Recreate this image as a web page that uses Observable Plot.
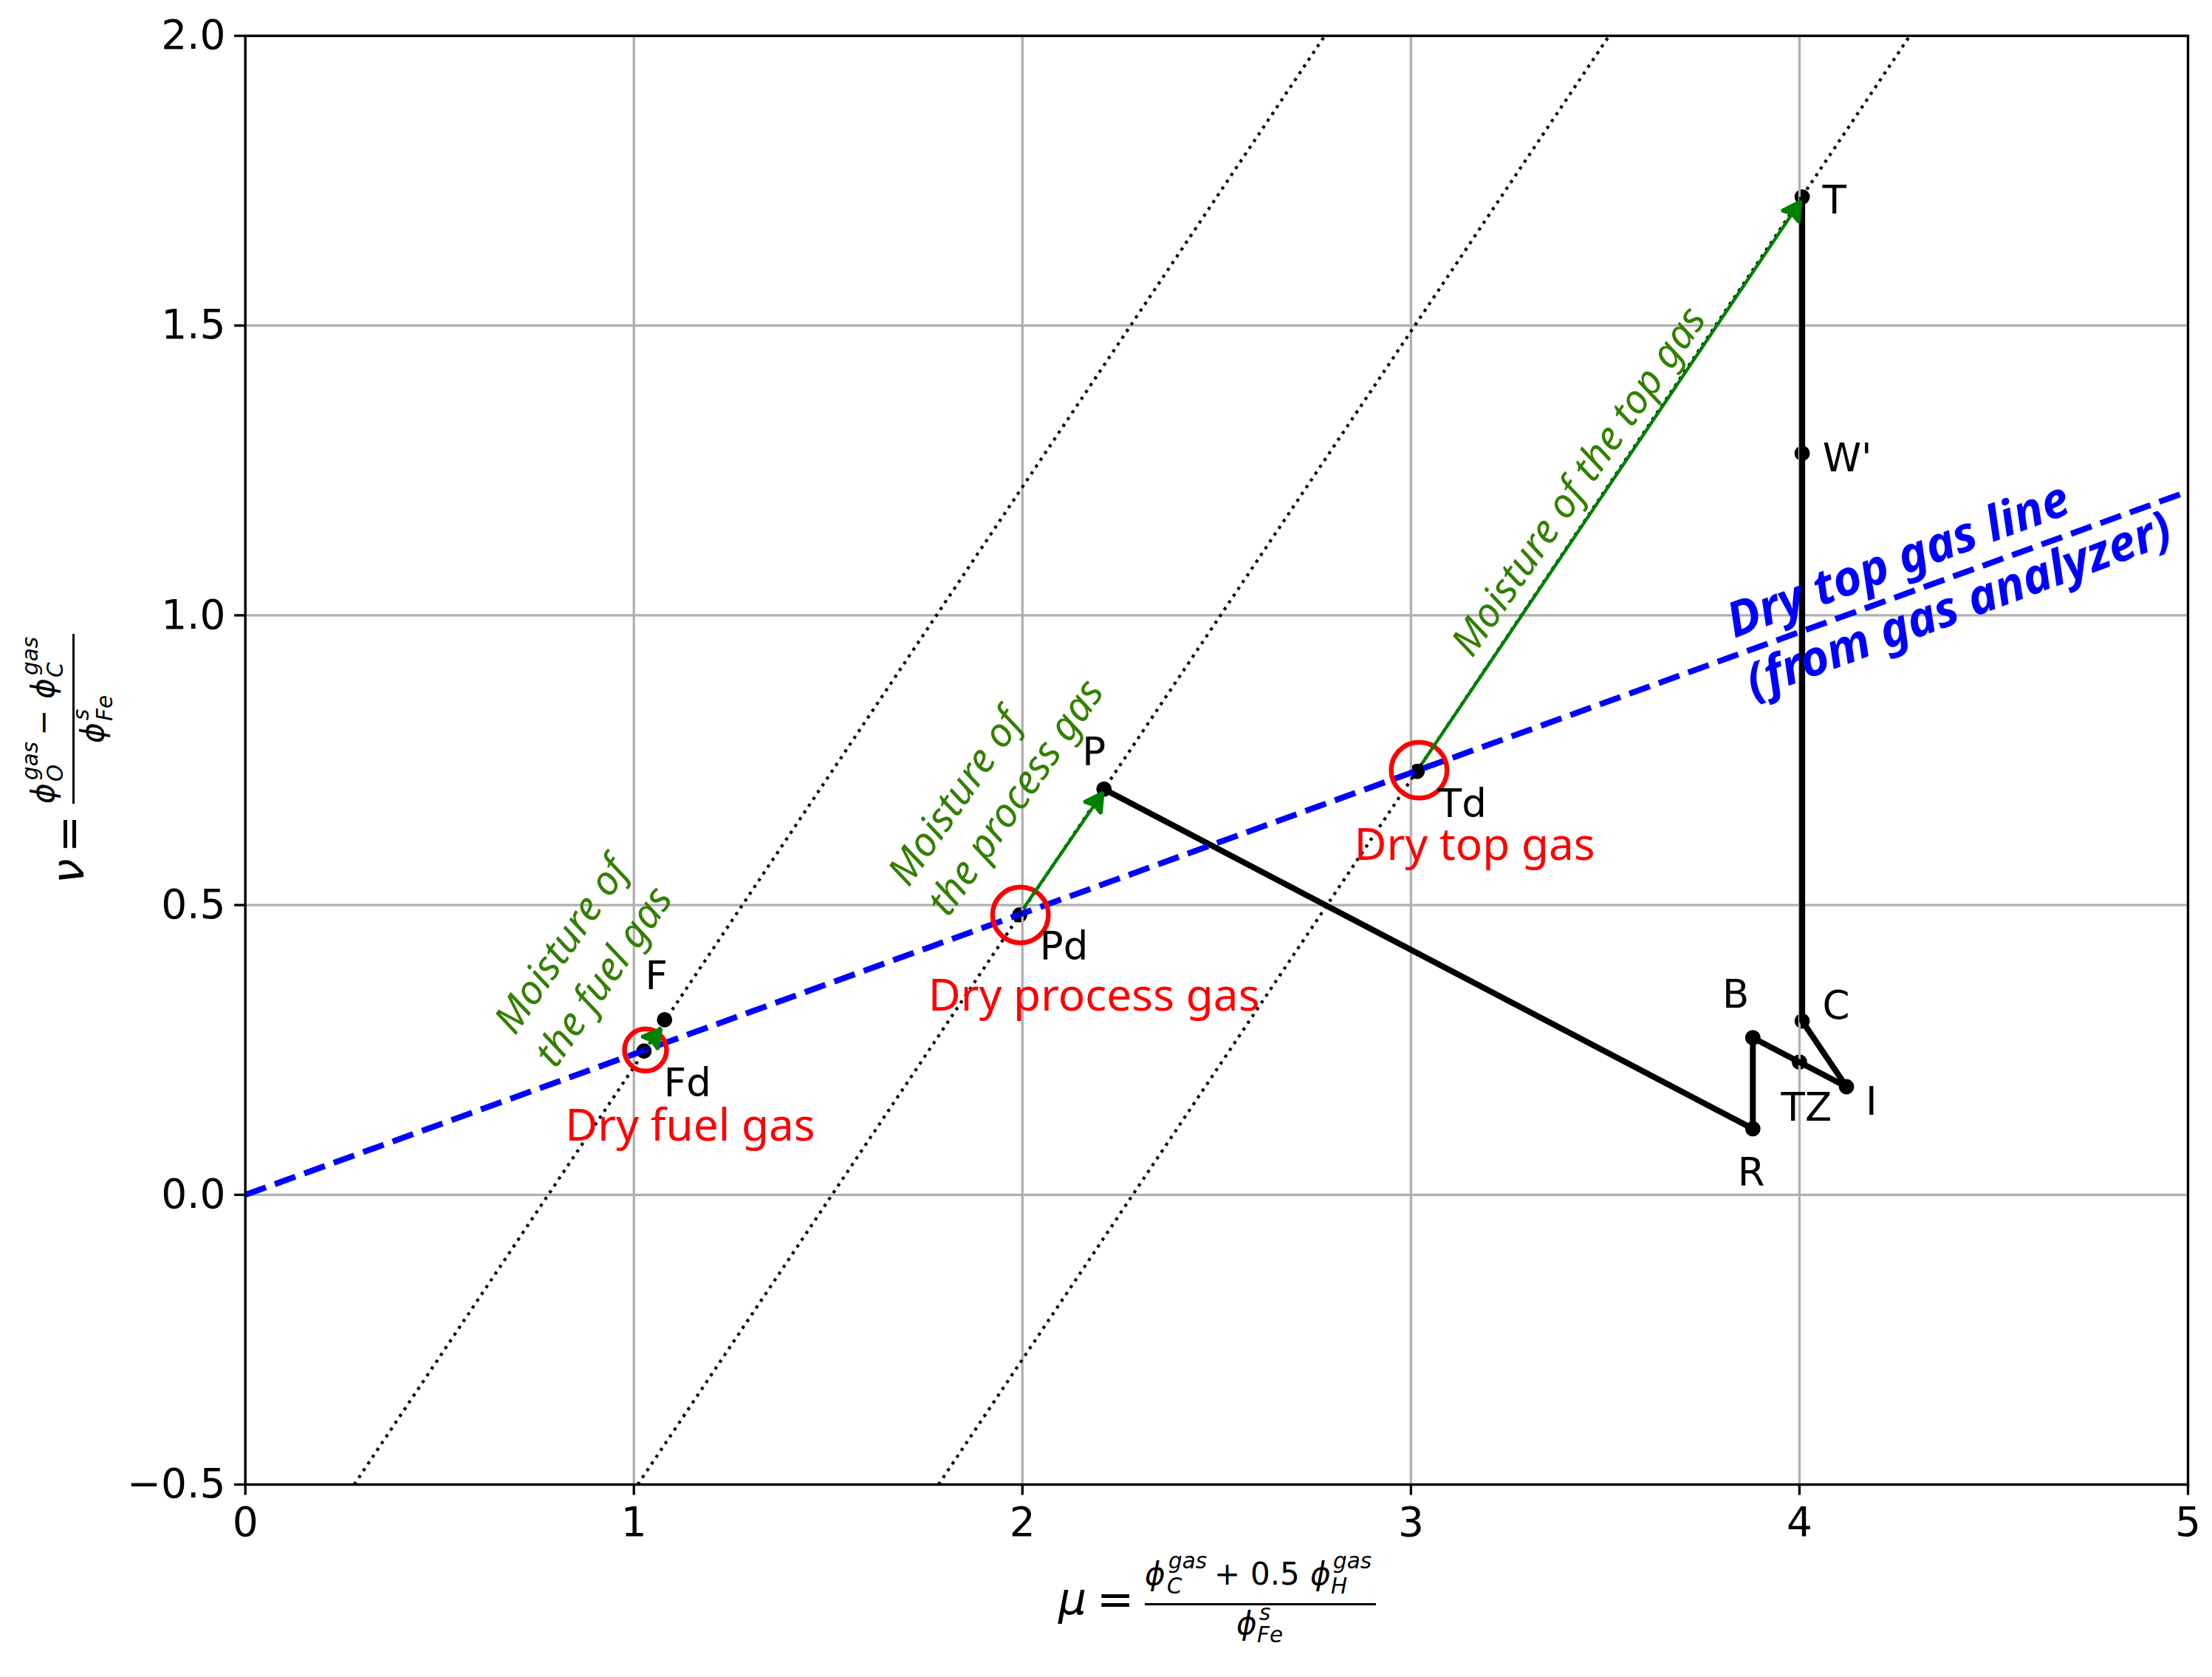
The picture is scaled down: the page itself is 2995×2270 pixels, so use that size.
<!DOCTYPE html>
<html>
<head>
<meta charset="utf-8">
<script src="https://cdn.jsdelivr.net/npm/d3@7"></script>
<script src="https://cdn.jsdelivr.net/npm/@observablehq/plot@0.6"></script>
<style>html,body{margin:0;padding:0;background:#fff}svg{display:block}</style>
</head>
<body>
<script>
// operating path
const pathNames = ["P","R","B","TZ","I","C","W'","T"];
const pathMu = [2.21,3.88,3.88,4.0,4.121,4.007,4.007,4.007];
const pathNu = [0.70,0.114,0.271,0.229,0.1865,0.30,1.2795,1.722];
// dry gas points
const dryMu = [1.026,1.993,3.016];
const dryNu = [0.248,0.483,0.7307];
const fuelMu = [1.079];
const fuelNu = [0.302];
// red rings
const ringMu = [1.03,1.995,3.021];
const ringNu = [0.2498,0.483,0.7327];
const ringR = [28.5,37.8,37.8];
// dry top gas line
const dryLineMu = [0,5];
const dryLineNu = [0,1.2137];
// dotted lines of constant ratio
const dotMu1 = [0.28,1.01,1.784];
const dotNu1 = [-0.5,-0.5,-0.5];
const dotMu2 = [2.778,3.51,4.284];
const dotNu2 = [2,2,2];
// moisture arrows
const arrowMu1 = [1.0386,2.0025,3.029];
const arrowNu1 = [0.26,0.4941,0.7447];
const arrowMu2 = [1.0631,2.2008,3.9966];
const arrowNu2 = [0.281,0.6879,1.7083];
// labels
const blackText = ["T","W'","C","B","TZ","I","R","P","F","Fd","Pd","Td"];
const blackMu = [4.09,4.123,4.094,3.836,4.018,4.185,3.876,2.184,1.058,1.138,2.107,3.132];
const blackNu = [1.7152,1.2697,0.3251,0.3446,0.1498,0.1596,0.0378,0.7633,0.3762,0.1912,0.4274,0.6732];
const redText = ["Dry fuel gas","Dry process gas","Dry top gas"];
const redMu = [1.145,2.184,3.164];
const redNu = [0.1182,0.3422,0.6026];
const greenText = ["Moisture of","the fuel gas","Moisture of","the process gas","Moisture of the top gas"];
const greenMu = [0.8147,0.9236,1.8278,1.984,3.433];
const greenNu = [0.4298,0.3762,0.6854,0.6854,1.2307];
const blueText = ["Dry top gas line","(from gas analyzer)"];
const blueMu = [4.254,4.41];
const blueNu = [1.0944,1.0161];
const xTicks = [0,1,2,3,4,5];
const yTicks = [-0.5,0,0.5,1,1.5,2];

const rows = (...cols) => cols[0].map((_, i) => cols.map(c => c[i]));

function stealth(color, context) {
  const ns = "http://www.w3.org/2000/svg";
  const doc = context.document;
  const m = doc.createElementNS(ns, "marker");
  m.setAttribute("markerUnits", "userSpaceOnUse");
  m.setAttribute("markerWidth", "60");
  m.setAttribute("markerHeight", "60");
  m.setAttribute("viewBox", "-30 -30 60 60");
  m.setAttribute("refX", "0");
  m.setAttribute("refY", "0");
  m.setAttribute("orient", "auto");
  const p = doc.createElementNS(ns, "path");
  p.setAttribute("d", "M6,0L-19,14L-15,0L-19,-14Z");
  p.setAttribute("fill", "#008000");
  m.appendChild(p);
  return m;
}

const PHI = "\u03D5";
function mathPieces(g, place, pieces) {
  for (const [s, b, txt, size, it] of pieces) {
    const [tx, rot, ty] = place(s, b);
    g.append("text")
      .attr("transform", `translate(${tx},${ty}) rotate(${rot})`)
      .attr("text-anchor", "start")
      .attr("font-family", "DejaVu Sans")
      .attr("font-size", size)
      .attr("font-style", it ? "italic" : "normal")
      .attr("fill", "black")
      .text(txt);
  }
}
function xLabel() {
  const g = d3.create("svg:g");
  const place = (s, b) => [s, 0, b];
  mathPieces(g, place, [
    [1433, 2185, "\u03BC", 60, 1],
    [1485, 2185, "=", 60, 0],
    [1550, 2145, PHI, 42, 1],
    [1582, 2123, "gas", 29.4, 1],
    [1580, 2157, "C", 29.4, 1],
    [1644, 2145, "+", 42, 0],
    [1693, 2145, "0.5", 42, 0],
    [1774, 2145, PHI, 42, 1],
    [1805, 2123, "gas", 29.4, 1],
    [1802, 2157, "H", 29.4, 1],
    [1674, 2212, PHI, 42, 1],
    [1705, 2193, "s", 29.4, 1],
    [1702, 2223, "Fe", 29.4, 1]
  ]);
  g.append("rect").attr("x", 1550).attr("y", 2170).attr("width", 313).attr("height", 3).attr("fill", "black");
  return g.node();
}
function yLabel() {
  const g = d3.create("svg:g");
  const place = (s, b) => [b, -90, s];
  mathPieces(g, place, [
    [1196, 112.7, "\u03BD", 60, 1],
    [1154, 112.7, "=", 60, 0],
    [1088, 73, PHI, 42, 1],
    [1056, 51, "gas", 29.4, 1],
    [1058, 85, "O", 29.4, 1],
    [996, 73, "\u2212", 42, 0],
    [946, 73, PHI, 42, 1],
    [914, 51, "gas", 29.4, 1],
    [917, 85, "C", 29.4, 1],
    [1006, 140, PHI, 42, 1],
    [975, 120, "s", 29.4, 1],
    [976, 152, "Fe", 29.4, 1]
  ]);
  g.append("rect").attr("x", 98).attr("y", 858).attr("width", 3).attr("height", 230).attr("fill", "black");
  return g.node();
}

const chart = Plot.plot({
  width: 2995,
  height: 2270,
  marginLeft: 331.7,
  marginRight: 33,
  marginTop: 48,
  marginBottom: 261,
  style: {fontFamily: "DejaVu Sans", background: "white", color: "black"},
  x: {domain: [0, 5]},
  y: {domain: [-0.5, 2]},
  r: {type: "identity"},
  marks: [
    Plot.dot(rows(pathMu, pathNu), {x: "0", y: "1", r: 10.4, fill: "black", stroke: "none"}),
    Plot.dot(rows(dryMu, dryNu), {x: "0", y: "1", r: 10.4, fill: "black", stroke: "none"}),
    Plot.dot(rows(fuelMu, fuelNu), {x: "0", y: "1", r: 10.4, fill: "black", stroke: "none"}),
    Plot.gridX(xTicks, {stroke: "#b0b0b0", strokeOpacity: 1, strokeWidth: 3.3}),
    Plot.gridY(yTicks, {stroke: "#b0b0b0", strokeOpacity: 1, strokeWidth: 3.3}),
    Plot.line(rows(pathMu, pathNu), {x: "0", y: "1", stroke: "black", strokeWidth: 8, strokeLinejoin: "round", strokeLinecap: "butt"}),
    Plot.line(rows(dryLineMu, dryLineNu), {x: "0", y: "1", stroke: "#0000ff", strokeWidth: 8, strokeLinecap: "butt", strokeDasharray: "29.6,12.8"}),
    Plot.link(rows(dotMu1, dotNu1, dotMu2, dotNu2), {x1: "0", y1: "1", x2: "2", y2: "3", stroke: "black", strokeWidth: 4.17, strokeLinecap: "butt", strokeDasharray: "4.17,6.88"}),
    Plot.dot(rows(ringMu, ringNu, ringR), {x: "0", y: "1", r: "2", fill: "none", stroke: "#ff0000", strokeWidth: 6.5}),
    Plot.link(rows(arrowMu1, arrowNu1, arrowMu2, arrowNu2), {x1: "0", y1: "1", x2: "2", y2: "3", stroke: "#008000", strokeWidth: 4.4, strokeLinecap: "butt", markerEnd: stealth}),
    Plot.text(rows(blackText, blackMu, blackNu), {text: "0", x: "1", y: "2", fontSize: 53, fill: "black", fontFamily: "DejaVu Sans"}),
    Plot.text(rows(redText, redMu, redNu), {text: "0", x: "1", y: "2", fontSize: 60.3, fill: "#ff0000", fontFamily: "Noto Sans"}),
    Plot.text(rows(greenText, greenMu, greenNu), {text: "0", x: "1", y: "2", fontSize: 54.5, fill: "#338000", fontFamily: "Noto Sans", fontStyle: "italic", rotate: -55.3}),
    Plot.text(rows(blueText, blueMu, blueNu), {text: "0", x: "1", y: "2", fontSize: 66, fill: "#0000ff", fontFamily: "Noto Sans", fontStyle: "italic", fontWeight: "bold", rotate: -20.4}),
    Plot.axisX(xTicks, {anchor: "bottom", tickSize: 14.6, tickPadding: 16, strokeWidth: 3.3, fontSize: 55, label: null, tickFormat: d3.format("d")}),
    Plot.axisY(yTicks, {anchor: "left", tickSize: 14.6, tickPadding: 12, strokeWidth: 3.3, fontSize: 55, label: null, tickFormat: d3.format(".1f")}),
    Plot.frame({stroke: "black", strokeWidth: 3.3}),
    xLabel,
    yLabel
  ]
});
document.body.appendChild(chart);
</script>
</body>
</html>
